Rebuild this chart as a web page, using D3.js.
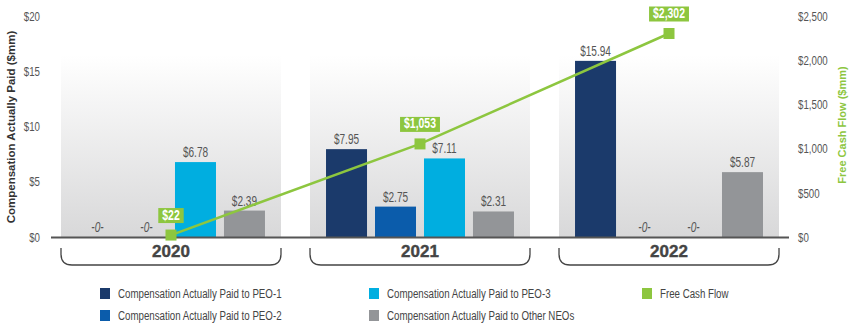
<!DOCTYPE html>
<html>
<head>
<meta charset="utf-8">
<script src="https://cdn.jsdelivr.net/npm/d3@7"></script>
<style>
  body { margin: 0; background: #fff; }
  svg { display: block; }
  .narrow { font-family: "Liberation Sans", Arial, sans-serif; }
</style>
</head>
<body>
<div id="chart"></div>
<script>
// data
var years = ["2020", "2021", "2022"];
var seriesNames = ["Compensation Actually Paid to PEO-1", "Compensation Actually Paid to PEO-2",
                   "Compensation Actually Paid to PEO-3", "Compensation Actually Paid to Other NEOs"];
var peo1 = [0, 7.95, 15.94];
var peo2 = [0, 2.75, 0];
var peo3 = [6.78, 7.11, 0];
var otherNeos = [2.39, 2.31, 5.87];
var freeCashFlow = [22, 1053, 2302];
var leftTicks = [0, 5, 10, 15, 20];
var rightTicks = [0, 500, 1000, 1500, 2000, 2500];

var colors = ["#1b3a6b", "#0b5cab", "#00aee0", "#939598"];
var green = "#8dc63f";
var squeeze = 0.72; // condensed look, like the reference's narrow face

var width = 850, height = 326;
var svg = d3.select("#chart").append("svg")
    .attr("width", width)
    .attr("height", height);

// narrow text placed at x,y
function narrow(parent, x, y) {
  return parent.append("text")
      .attr("class", "narrow")
      .attr("transform", "translate(" + x + "," + y + ") scale(" + squeeze + ",1)");
}

var defs = svg.append("defs");
var grad = defs.append("linearGradient")
    .attr("id", "panelGrad")
    .attr("x1", 0).attr("y1", 0).attr("x2", 0).attr("y2", 1);
grad.append("stop").attr("offset", "0%").attr("stop-color", "#ffffff");
grad.append("stop").attr("offset", "100%").attr("stop-color", "#d8d8d9");

// scales
var x0 = d3.scaleBand()
    .domain(years)
    .range([46.5, 793.5])
    .paddingInner(0.1165)
    .paddingOuter(0.0582);

var x1 = d3.scaleBand()
    .domain(d3.range(4))
    .range([0, x0.bandwidth()])
    .paddingInner(0.163)
    .paddingOuter(0.327);

var yLeft = d3.scaleLinear().domain([0, 20]).range([237, 16]);
var yRight = d3.scaleLinear().domain([0, 2500]).range([237, 16]);

var fmt = d3.format(",");
var data = years.map(function(y, i) {
  return { year: y, values: [peo1[i], peo2[i], peo3[i], otherNeos[i]], fcf: freeCashFlow[i] };
});

// gradient panels behind each year
svg.append("g").selectAll("rect")
  .data(years)
  .enter().append("rect")
    .attr("x", function(d) { return x0(d); })
    .attr("y", 55)
    .attr("width", x0.bandwidth())
    .attr("height", yLeft(0) - 55)
    .attr("fill", "url(#panelGrad)");

// left axis labels
var gl = svg.append("g");
leftTicks.forEach(function(d) {
  narrow(gl, 40, yLeft(d))
    .attr("dy", "0.35em")
    .attr("text-anchor", "end")
    .attr("font-size", 13.5)
    .attr("fill", "#555")
    .text("$" + d);
});

// right axis labels
var gr = svg.append("g");
rightTicks.forEach(function(d) {
  narrow(gr, 798, yRight(d))
    .attr("dy", "0.35em")
    .attr("font-size", 13.5)
    .attr("fill", "#555")
    .text("$" + fmt(d));
});

// axis titles
svg.append("text")
    .attr("transform", "translate(11,127) rotate(-90)")
    .attr("text-anchor", "middle")
    .attr("dy", "0.35em")
    .attr("font-family", "Liberation Sans, Arial, sans-serif")
    .attr("font-weight", "bold")
    .attr("font-size", 11.5)
    .attr("fill", "#333")
    .text("Compensation Actually Paid ($mm)");

svg.append("text")
    .attr("transform", "translate(842,125) rotate(-90)")
    .attr("text-anchor", "middle")
    .attr("dy", "0.35em")
    .attr("font-family", "Liberation Sans, Arial, sans-serif")
    .attr("font-weight", "bold")
    .attr("font-size", 11)
    .attr("fill", green)
    .text("Free Cash Flow ($mm)");

// bars and value labels
var groups = svg.append("g").selectAll("g")
  .data(data)
  .enter().append("g")
    .attr("transform", function(d) { return "translate(" + x0(d.year) + ",0)"; });

groups.each(function(g) {
  var sel = d3.select(this);
  g.values.forEach(function(v, i) {
    if (v > 0) {
      sel.append("rect")
        .attr("x", x1(i))
        .attr("y", yLeft(v))
        .attr("width", x1.bandwidth())
        .attr("height", yLeft(0) - yLeft(v))
        .attr("fill", colors[i]);
    }
    narrow(sel, x1(i) + x1.bandwidth() / 2, v > 0 ? yLeft(v) - 5 : yLeft(0) - 5)
      .attr("text-anchor", "middle")
      .attr("font-size", 14)
      .attr("font-style", v > 0 ? "normal" : "italic")
      .attr("fill", "#555")
      .text(v > 0 ? "$" + v.toFixed(2) : "-0-");
  });
});

// baseline
svg.append("line")
    .attr("x1", 51).attr("x2", 789)
    .attr("y1", yLeft(0) + 0.5).attr("y2", yLeft(0) + 0.5)
    .attr("stroke", "#555")
    .attr("stroke-width", 2);

// year labels and braces
svg.append("g").selectAll("text")
  .data(years)
  .enter().append("text")
    .attr("x", function(d) { return x0(d) + x0.bandwidth() / 2; })
    .attr("y", 257)
    .attr("text-anchor", "middle")
    .attr("font-family", "Liberation Sans, Arial, sans-serif")
    .attr("font-weight", "bold")
    .attr("font-size", 17)
    .attr("fill", "#444")
    .attr("stroke", "#444")
    .attr("stroke-width", 0.4)
    .text(function(d) { return d; });

svg.append("g").selectAll("path")
  .data(years)
  .enter().append("path")
    .attr("d", function(d) {
      var a = x0(d), b = x0(d) + x0.bandwidth();
      return "M" + a + ",248 L" + a + ",254 Q" + a + ",265 " + (a + 11) + ",265 L" + (b - 11) +
             ",265 Q" + b + ",265 " + b + ",254 L" + b + ",248";
    })
    .attr("fill", "none")
    .attr("stroke", "#444")
    .attr("stroke-width", 1.3);

// free cash flow line
var line = d3.line()
    .x(function(d) { return x0(d.year) + x0.bandwidth() / 2; })
    .y(function(d) { return yRight(d.fcf); });

svg.append("path")
    .datum(data)
    .attr("fill", "none")
    .attr("stroke", green)
    .attr("stroke-width", 2.5)
    .attr("d", line);

var pts = svg.append("g").selectAll("g")
  .data(data)
  .enter().append("g")
    .attr("transform", function(d) {
      return "translate(" + (x0(d.year) + x0.bandwidth() / 2) + "," + yRight(d.fcf) + ")";
    });

pts.append("rect")
    .attr("x", -5.5).attr("y", -5.5)
    .attr("width", 11).attr("height", 11)
    .attr("fill", green);

pts.each(function(d) {
  var g = d3.select(this);
  var bg = g.append("rect");
  var t = narrow(g, 0, -15.5)
      .attr("text-anchor", "middle")
      .attr("font-size", 14.5)
      .attr("font-weight", "bold")
      .attr("fill", "#fff")
      .text("$" + fmt(d.fcf));
  var w = t.node().getComputedTextLength() * squeeze + 8;
  bg.attr("x", -w / 2)
    .attr("y", -27)
    .attr("width", w)
    .attr("height", 15)
    .attr("fill", green);
});

// legend
var legendItems = [
  { name: seriesNames[0], color: colors[0], x: 100, y: 288 },
  { name: seriesNames[1], color: colors[1], x: 100, y: 310 },
  { name: seriesNames[2], color: colors[2], x: 369, y: 288 },
  { name: seriesNames[3], color: colors[3], x: 369, y: 310 },
  { name: "Free Cash Flow", color: green, x: 642, y: 288 }
];

var leg = svg.append("g").selectAll("g")
  .data(legendItems)
  .enter().append("g")
    .attr("transform", function(d) { return "translate(" + d.x + "," + d.y + ")"; });

leg.append("rect")
    .attr("width", 10).attr("height", 11)
    .attr("fill", function(d) { return d.color; });

leg.each(function(d) {
  narrow(d3.select(this), 18, 5.5)
    .attr("dy", "0.35em")
    .attr("font-size", 13.5)
    .attr("fill", "#444")
    .text(d.name);
});
</script>
</body>
</html>
